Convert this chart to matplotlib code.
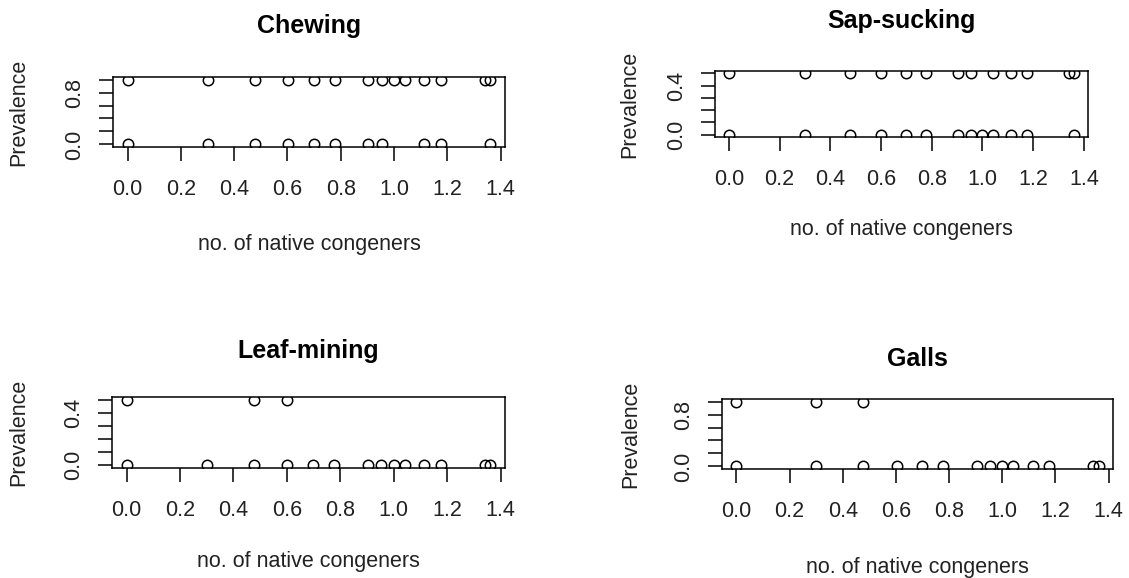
import matplotlib
matplotlib.use("Agg")
import matplotlib.pyplot as plt
import numpy as np

plt.rcParams['font.family'] = ['Liberation Sans', 'DejaVu Sans']

# log10(no. of native congeners) values
chew_hi_x = [0.0, 0.301, 0.477, 0.602, 0.699, 0.778, 0.903, 0.954, 1.0, 1.041, 1.114, 1.176, 1.342, 1.362]
chew_lo_x = [0.0, 0.301, 0.477, 0.602, 0.699, 0.778, 0.903, 0.954, 1.114, 1.176, 1.362]
sap_hi_x = [0.0, 0.301, 0.477, 0.602, 0.699, 0.778, 0.903, 0.954, 1.041, 1.114, 1.176, 1.342, 1.362]
sap_lo_x = [0.0, 0.301, 0.477, 0.602, 0.699, 0.778, 0.903, 0.954, 1.0, 1.041, 1.114, 1.176, 1.362]
leaf_hi_x = [0.0, 0.477, 0.602]
leaf_lo_x = [0.0, 0.301, 0.477, 0.602, 0.699, 0.778, 0.903, 0.954, 1.0, 1.041, 1.114, 1.176, 1.342, 1.362]
gall_hi_x = [0.0, 0.301, 0.477]
gall_lo_x = [0.0, 0.301, 0.477, 0.602, 0.699, 0.778, 0.903, 0.954, 1.0, 1.041, 1.114, 1.176, 1.342, 1.362]

titles = ["Chewing", "Sap-sucking", "Leaf-mining", "Galls"]
hi_vals = [1.0, 0.5, 0.5, 1.0]
lo_vals = [0.0, 0.0, 0.0, 0.0]
y_ticks = [[0, 0.2, 0.4, 0.6, 0.8, 1.0], [0, 0.1, 0.2, 0.3, 0.4, 0.5],
           [0, 0.1, 0.2, 0.3, 0.4, 0.5], [0, 0.2, 0.4, 0.6, 0.8, 1.0]]
y_shown = [{0.0: "0.0", 0.8: "0.8"}, {0.0: "0.0", 0.4: "0.4"},
           {0.0: "0.0", 0.4: "0.4"}, {0.0: "0.0", 0.8: "0.8"}]
x_ticks = [0.0, 0.2, 0.4, 0.6, 0.8, 1.0, 1.2, 1.4]
x_ticklabels = ["0.0", "0.2", "0.4", "0.6", "0.8", "1.0", "1.2", "1.4"]
xlab = "no. of native congeners"
ylab = "Prevalence"

series = [(chew_hi_x, chew_lo_x), (sap_hi_x, sap_lo_x), (leaf_hi_x, leaf_lo_x), (gall_hi_x, gall_lo_x)]

W, H = 1129, 578
fig = plt.figure(figsize=(W / 100, H / 100), dpi=100)

# box (left, right, top, bottom) in pixels from top-left
boxes = [(113, 505, 77, 147), (715, 1088, 71, 137), (112, 505, 397, 468), (722, 1113, 399, 469)]
title_y = [26, 21, 351, 359]
xlab_y = [245, 229, 562, 567]
ylab_x = [19, 630, 19, 631]

FS = 15.5

def fx(px):
    return px / W

def fy(py):
    return 1 - py / H

for i, (l, r, t, b) in enumerate(boxes):
    ax = fig.add_axes([fx(l), fy(b), (r - l) / W, (b - t) / H])
    hx, lx = series[i]
    ax.plot(hx, [hi_vals[i]] * len(hx), linestyle='none', marker='o', markersize=7.5,
            markerfacecolor='none', markeredgecolor='black', markeredgewidth=1.1)
    ax.plot(lx, [lo_vals[i]] * len(lx), linestyle='none', marker='o', markersize=7.5,
            markerfacecolor='none', markeredgecolor='black', markeredgewidth=1.1)
    xr = 1.362 - 0.0
    ax.set_xlim(0.0 - 0.04 * xr, 1.362 + 0.04 * xr)
    yr = hi_vals[i]
    ax.set_ylim(-0.04 * yr, yr + 0.04 * yr)
    ax.set_xticks(x_ticks)
    ax.set_xticklabels(x_ticklabels, fontsize=FS, color='#222222')
    ax.set_yticks(y_ticks[i])
    ax.set_yticklabels([y_shown[i].get(round(v, 1), "") for v in y_ticks[i]],
                       fontsize=FS, rotation=90, va='center', color='#222222')
    ax.tick_params(axis='x', direction='out', length=10, width=1.1, pad=13, color='black')
    ax.tick_params(axis='y', direction='out', length=10, width=1.1, pad=10, color='black')
    for s in ax.spines.values():
        s.set_linewidth(1.1)
    cx = (l + r) / 2
    fig.text(fx(cx), fy(title_y[i]), titles[i], ha='center', va='center',
             fontsize=18, fontweight='bold')
    fig.text(fx(cx), fy(xlab_y[i]), xlab, ha='center', va='center', fontsize=FS,
             color='#222222')
    fig.text(fx(ylab_x[i]), fy((t + b) / 2), ylab, ha='center', va='center',
             fontsize=FS, rotation=90, color='#222222')

fig.savefig("out.png", dpi=100, facecolor='white')
